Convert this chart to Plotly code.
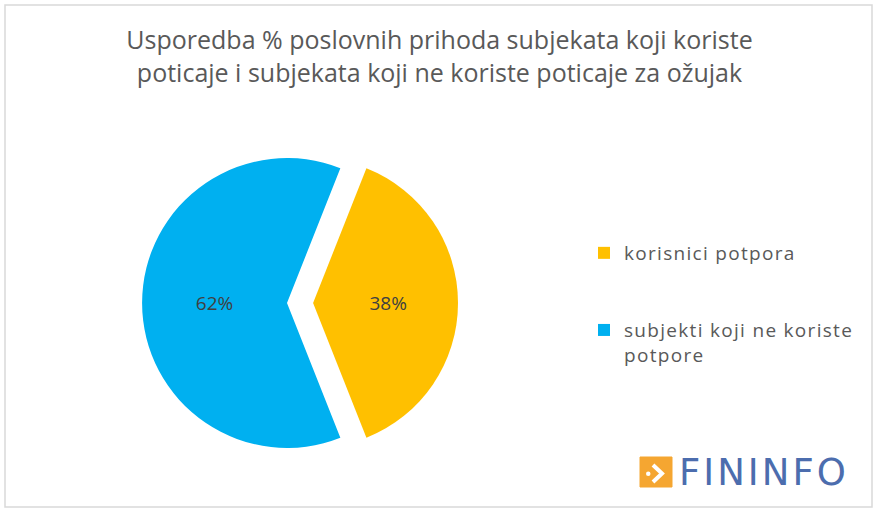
import plotly.graph_objects as go

# data
labels = ["korisnici potpora", "subjekti koji ne koriste potpore"]
legend_names = ["korisnici potpora<br> <br> ", "subjekti koji ne koriste<br>potpore"]
values = [38, 62]
colors = ["#FFC000", "#00B0F0"]
title_text = ("Usporedba % poslovnih prihoda subjekata koji koriste<br>"
              "poticaje i subjekata koji ne koriste poticaje za ožujak")

W, H = 879, 516


def px(x):
    return x / W


def py(y):
    return 1 - y / H


fig = go.Figure()
fig.add_pie(
    labels=['<span style="letter-spacing:1.3px">%s</span>' % n for n in legend_names],
    values=values,
    sort=False,
    direction="clockwise",
    rotation=21.6,
    pull=[0.18, 0],
    marker=dict(colors=colors, line=dict(width=0)),
    textinfo="percent",
    textposition="inside",
    insidetextorientation="horizontal",
    textfont=dict(family="Open Sans", size=19, color="#404040"),
    domain=dict(x=[px(116), px(458)], y=[py(474), py(132)]),
    hoverinfo="percent",
)

# logo chevron
chevron = "M %f,%f L %f,%f L %f,%f" % (px(653), py(465), px(662), py(473.5), px(653), py(482))

fig.update_layout(
    width=W, height=H,
    margin=dict(l=0, r=0, t=0, b=0),
    paper_bgcolor="white",
    plot_bgcolor="white",
    font=dict(family="Open Sans", color="#595959"),
    title=dict(text=title_text, x=0.5, xanchor="center", y=py(49), yanchor="top",
               font=dict(family="Open Sans", size=25, color="#595959")),
    legend=dict(x=px(584), y=py(234), xanchor="left", yanchor="top",
                valign="top", font=dict(family="Open Sans", size=19, color="#595959"),
                bgcolor="rgba(0,0,0,0)"),
    shapes=[
        # outer frame
        dict(type="rect", xref="paper", yref="paper",
             x0=px(5), x1=px(872), y0=py(507), y1=py(5),
             line=dict(color="#D9D9D9", width=1.5), fillcolor="rgba(0,0,0,0)"),
        # logo badge
        dict(type="rect", xref="paper", yref="paper",
             x0=px(640), x1=px(672), y0=py(487), y1=py(457),
             line=dict(color="#F5A631", width=1), fillcolor="#F5A631"),
        dict(type="path", xref="paper", yref="paper", path=chevron,
             line=dict(color="white", width=4)),
        dict(type="circle", xref="paper", yref="paper",
             x0=px(646), x1=px(650.5), y0=py(476), y1=py(471.5),
             line=dict(width=0), fillcolor="white"),
    ],
    annotations=[
        dict(text='<span style="letter-spacing:3px">FININFO</span>',
             xref="paper", yref="paper", x=px(677), y=py(472),
             xanchor="left", yanchor="middle", showarrow=False,
             font=dict(family="DejaVu Sans", size=37, color="#4C6DAE")),
    ],
)

fig.write_html("out.html", config={"displayModeBar": False},
               post_script="document.body.style.margin='0px';")
